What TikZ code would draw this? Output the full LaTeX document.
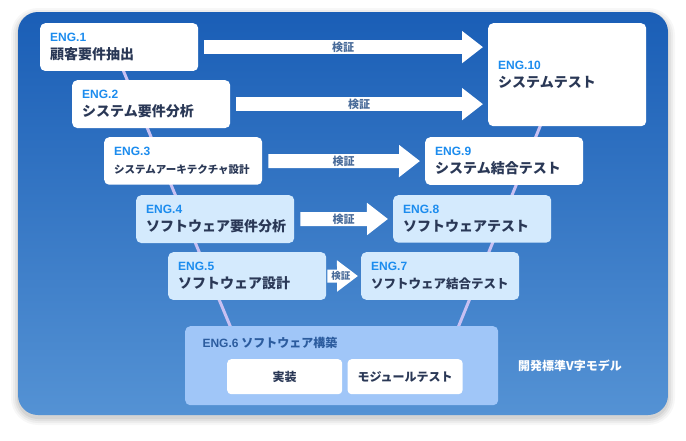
\documentclass[tikz,border=0pt]{standalone}
\usepackage{fontspec}
\setmainfont{Noto Sans CJK JP}
\newfontfamily\lat{Liberation Sans}
\usetikzlibrary{arrows.meta,positioning,calc}
\definecolor{panel_top}{RGB}{26,94,182}
\definecolor{panel_bot}{RGB}{84,146,212}
\definecolor{eng_blue}{RGB}{28,140,238}
\definecolor{title_navy}{RGB}{42,56,86}
\definecolor{light_box}{RGB}{212,234,253}
\definecolor{eng6_fill}{RGB}{160,198,248}
\definecolor{eng6_text}{RGB}{44,92,158}
\definecolor{v_line}{RGB}{200,192,242}
\definecolor{vrf_text}{RGB}{74,108,154}
\newcommand{\englbl}{\lat\fontsize{12}{14}\selectfont\bfseries\color{eng_blue}}

\begin{document}
\begin{tikzpicture}[
x=1pt,y=-1pt,
box/.style={
  fill=#1,
  rounded corners=5pt,
  minimum width=158pt,
  minimum height=46pt,
  text width=138pt,
  inner sep=10pt,
  align=left,
  anchor=north west,
  text=title_navy,
  font=\fontsize{14}{18}\selectfont\bfseries
  },
box/.default=white,
inbox/.style={
  fill=white,
  rounded corners=4pt,
  minimum width=115pt,
  minimum height=35pt,
  anchor=north west,
  align=center,
  text=title_navy,
  font=\fontsize{12}{14}\selectfont\bfseries
  },
vrf/.style={
  white,
  line width=14pt,
  -{Triangle[length=21pt,width=31pt]},
  shorten <=6pt,
  shorten >=5pt
  },
vlabel/.style={
  text=vrf_text,
  font=\fontsize{11}{13}\selectfont\bfseries
  },
vl/.style={
  draw=v_line,
  line width=3pt
  }
]

\useasboundingbox (0,0) rectangle (686,440);

%Panel with its shadow
\coordinate (pnw) at (18,12);
\coordinate (pse) at (668,415);
\foreach \s/\o in {7/.03,5/.04,3/.05,1/.06}
  \fill[black,opacity=\o,rounded corners=20pt+\s pt]
    ($(pnw)+(-\s,-\s+3)$) rectangle ($(pse)+(\s,\s+3)$);
\shade[top color=panel_top,bottom color=panel_bot,rounded corners=20pt]
  (pnw) rectangle (pse);

%The V lines
\coordinate (vl1) at (113,46);
\coordinate (vl2) at (236,340);
\coordinate (vr1) at (561,75);
\coordinate (vr2) at (453,340);
\draw[vl] (vl1) -- (vl2);
\draw[vl] (vr1) -- (vr2);

%The nodes for the left
\node[box] (eng1) at (40,23)
  {{\englbl ENG.1}\\顧客要件抽出};
\node[box] (eng2) at (72,80)
  {{\englbl ENG.2}\\システム要件分析};
\node[box] (eng3) at (104,137)
  {{\englbl ENG.3}\\{\fontsize{10.5}{14}\selectfont システムアーキテクチャ設計}};
\node[box=light_box] (eng4) at (136,195)
  {{\englbl ENG.4}\\ソフトウェア要件分析};
\node[box=light_box] (eng5) at (168,252)
  {{\englbl ENG.5}\\ソフトウェア設計};

%The nodes for the right
\node[box,minimum height=103pt] (eng10) at (488,23)
  {{\englbl ENG.10}\\システムテスト};
\node[box] (eng9) at (425,137)
  {{\englbl ENG.9}\\システム結合テスト};
\node[box=light_box] (eng8) at (393,195)
  {{\englbl ENG.8}\\ソフトウェアテスト};
\node[box=light_box] (eng7) at (361,252)
  {{\englbl ENG.7}\\{\fontsize{12.5}{16}\selectfont ソフトウェア結合テスト}};

%Bottom
\node[fill=eng6_fill,rounded corners=5pt,minimum width=313pt,minimum height=79pt,
  anchor=north west] (eng6) at (185,326) {};
\node[anchor=west,text=eng6_text,font=\fontsize{12}{14}\selectfont\bfseries]
  (eng6lbl) at ($(eng6.north west)+(14,17)$)
  {{\lat ENG.6}\ ソフトウェア構築};
\node[inbox] (impl) at (227,359)
  {実装};
\node[inbox,right=5pt of impl] (modtest)
  {モジュールテスト};

\node[text=white,font=\fontsize{12}{14}\selectfont\bfseries] (vmodel) at (570,366)
  {開発標準V字モデル};

%Arrows
\draw[vrf] (eng1.east) -- (eng1.east -| eng10.west)
  node[vlabel,midway] {検証};
\draw[vrf] (eng2.east) -- (eng2.east -| eng10.west)
  node[vlabel,midway] {検証};
\draw[vrf] (eng3) -- (eng9)
  node[vlabel,midway] {検証};
\draw[vrf] (eng4) -- (eng8)
  node[vlabel,midway] {検証};
\draw[vrf,line width=13pt,shorten <=1pt,shorten >=3pt,
  -{Triangle[length=21pt,width=30pt]}] (eng5) -- (eng7)
  node[vlabel,pos=.42,font=\fontsize{9.5}{11}\selectfont\bfseries] {検証};

\end{tikzpicture}
\end{document}
